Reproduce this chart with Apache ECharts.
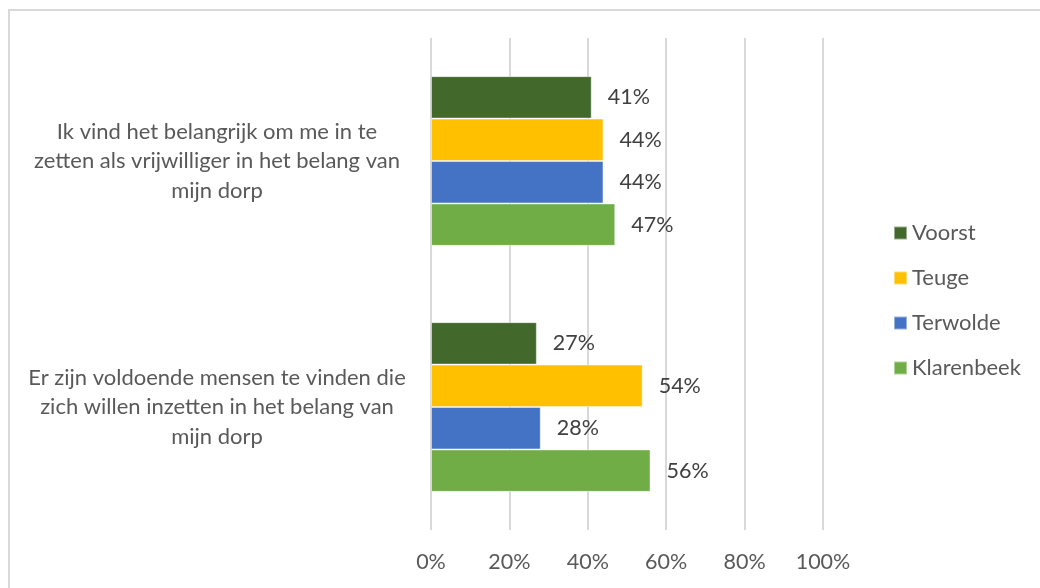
<!DOCTYPE html>
<html lang="nl">
<head>
    <meta charset="UTF-8">
    <title>Vrijwilligers</title>
    <script src="https://cdn.jsdelivr.net/npm/echarts@6/dist/echarts.min.js"></script>
    <style>
        body{
            margin: 0;
            background: #ffffff;
        }
        .frame{
            position: absolute;
            left: 8px;
            top: 9px;
            width: 1040px;
            height: 590px;
            border-left: 2px solid #d9d9d9;
            border-top: 2px solid #d9d9d9;
        }
        #chart{
            position: absolute;
            left: 0;
            top: 0;
            width: 1040px;
            height: 588px;
        }
    </style>
</head>
<body>
<div class="frame"></div>
<div id="chart"></div>
<script>
    // stellingen (van boven naar beneden)
    var categories = [
        'Ik vind het belangrijk om me in te\nzetten als vrijwilliger in het belang van\nmijn dorp',
        'Er zijn voldoende mensen te vinden die\nzich willen inzetten in het belang van\nmijn dorp'
    ];
    var seriesNames = ['Voorst', 'Teuge', 'Terwolde', 'Klarenbeek'];
    var voorst = [41, 27];
    var teuge = [44, 54];
    var terwolde = [44, 28];
    var klarenbeek = [47, 56];
    var xTicks = [0, 20, 40, 60, 80, 100];

    var colors = ['#43682B', '#FFC000', '#4472C4', '#70AD47'];
    var values = [voorst, teuge, terwolde, klarenbeek];
    var font = 'Lato, "Open Sans", sans-serif';

    var series = [];
    for (var i = 0; i < seriesNames.length; i++) {
        series.push({
            name: seriesNames[i],
            type: 'bar',
            data: values[i],
            barGap: '0%',
            barCategoryGap: '31%',
            itemStyle: {
                color: colors[i],
                borderColor: 'rgba(255,255,255,0.45)',
                borderWidth: 1
            },
            label: {
                show: true,
                position: 'right',
                distance: 16,
                formatter: '{c}%',
                color: '#404040',
                fontFamily: font,
                fontSize: 21.5
            }
        });
    }

    var myChart = echarts.init(document.getElementById('chart'));
    var option = {
        animation: false,
        color: colors,
        grid: {
            left: 431,
            right: 217,
            top: 38,
            bottom: 58,
            containLabel: false
        },
        legend: {
            data: seriesNames,
            orient: 'vertical',
            left: 893,
            top: 222,
            padding: 0,
            itemWidth: 13,
            itemHeight: 13,
            itemGap: 23,
            icon: 'rect',
            textStyle: {
                color: '#595959',
                fontFamily: font,
                fontSize: 22,
                lineHeight: 22
            }
        },
        xAxis: {
            type: 'value',
            min: xTicks[0],
            max: xTicks[xTicks.length - 1],
            interval: 20,
            axisLine: {show: false},
            axisTick: {show: false},
            splitLine: {
                show: true,
                lineStyle: {color: '#d9d9d9', width: 2}
            },
            axisLabel: {
                formatter: '{value}%',
                color: '#595959',
                fontFamily: font,
                fontSize: 21.5,
                margin: 21
            }
        },
        yAxis: {
            type: 'category',
            inverse: true,
            data: categories,
            axisLine: {show: false},
            axisTick: {show: false},
            axisLabel: {
                color: '#595959',
                fontFamily: font,
                fontSize: 22,
                lineHeight: 29.5,
                align: 'center',
                margin: 214
            }
        },
        series: series
    };
    myChart.setOption(option);
</script>
</body>
</html>
